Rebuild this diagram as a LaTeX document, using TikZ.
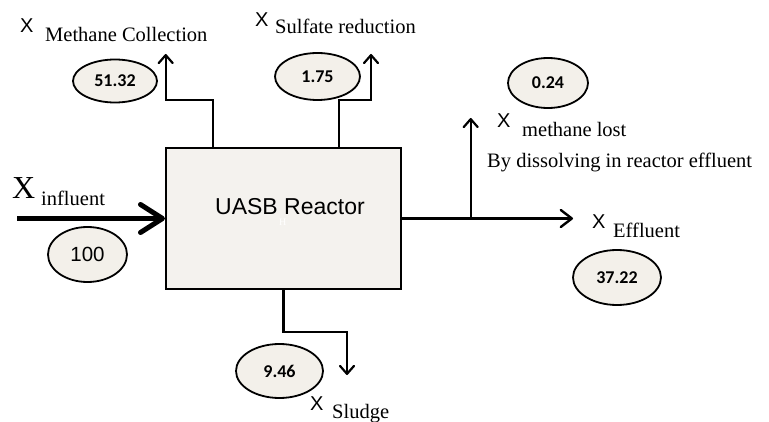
\documentclass[tikz,border=0pt]{standalone}
\usepackage{fontspec}
\setmainfont{Liberation Serif}
\newfontfamily\arialf{Liberation Sans}
\newfontfamily\calibf{Carlito}
\usetikzlibrary{arrows.meta,shapes.geometric}
\definecolor{boxfill}{HTML}{F4F2EE}
\definecolor{ellfill}{HTML}{F3F0EA}
\begin{document}
\begin{tikzpicture}[x=1pt,y=-1pt,
  flowline/.style={line width=2.2pt,line cap=round,line join=miter,
    -{Straight Barb[length=8pt,width=14pt,line cap=round,line join=round]}},
  effline/.style={line width=2.4pt,line join=miter,
    -{Straight Barb[length=11pt,width=17pt,line cap=round,line join=round]}},
  bigline/.style={line width=5pt,
    -{Straight Barb[length=22pt,width=28pt,line cap=round,line join=round]}},
  valell/.style={ellipse,draw,line width=1.8pt,fill=ellfill,inner sep=0pt,
    font=\calibf\bfseries\fontsize{18}{20}\selectfont},
  xsans/.style={inner sep=0pt,anchor=base west,font=\arialf\fontsize{20}{22}\selectfont},
  subtxt/.style={inner sep=0pt,anchor=base west,font=\fontsize{20.5}{24}\selectfont},
]
\useasboundingbox (0,0) rectangle (769,422);

% reactor
\node[draw,line width=2pt,fill=boxfill,minimum width=235pt,minimum height=141pt,inner sep=0pt]
  (reactor) at (283.5,218.5) {};
\node[inner sep=0pt,anchor=base west,font=\arialf\fontsize{23}{26}\selectfont]
  (rlabel) at (215,215) {UASB Reactor};
\node[inner sep=0pt,anchor=base west,text=white,font=\fontsize{10}{11}\selectfont]
  (rsub) at (279,226) {H};

% influent
\coordinate (inStart) at (17,218.5);
\draw[bigline] (inStart) -- (reactor.west);
\node[inner sep=0pt,anchor=base west,font=\fontsize{32}{36}\selectfont] (xin) at (12,199) {X};
\node[subtxt] (sin) at (41,206) {influent};
\node[valell,minimum width=79pt,minimum height=55pt,font=\arialf\fontsize{20.5}{24}\selectfont]
  (e100) at (87.5,254.5) {100};

% methane collection
\coordinate (mcJoin) at (213,100);
\coordinate (mcEnd) at (165.7,54);
\draw[flowline] (reactor.north -| mcJoin) -- (mcJoin) -| (mcEnd);
\node[xsans] (xmc) at (20,33) {X};
\node[subtxt] (smc) at (45,42) {Methane Collection};
\node[valell,minimum width=84pt,minimum height=43pt] (e5132) at (115,81) {51.32};

% sulfate reduction
\coordinate (srJoin) at (339,100);
\coordinate (srEnd) at (371,54);
\draw[flowline] (reactor.north -| srJoin) -- (srJoin) -| (srEnd);
\node[xsans] (xsr) at (255,27) {X};
\node[subtxt] (ssr) at (275,34) {Sulfate reduction};
\node[valell,minimum width=85pt,minimum height=47pt] (e175) at (317.5,76.5) {1.75};

% effluent
\coordinate (effEnd) at (573,218.5);
\draw[effline] (reactor.east) -- (effEnd);
\node[xsans] (xeff) at (592,229) {X};
\node[subtxt] (seff) at (613,238) {Effluent};
\node[valell,minimum width=88pt,minimum height=55pt] (e3722) at (617,277.5) {37.22};

% methane lost
\coordinate (mlEnd) at (470.7,118);
\draw[flowline] (reactor.east -| mlEnd) -- (mlEnd);
\node[xsans] (xml) at (497,128) {X};
\node[subtxt] (sml) at (522,137) {methane lost};
\node[subtxt] (sml2) at (487,168) {By dissolving in reactor effluent};
\node[valell,minimum width=80pt,minimum height=50pt] (e024) at (548,83) {0.24};

% sludge
\coordinate (slBend) at (347,332);
\coordinate (slEnd) at (347,375);
\draw[flowline] (reactor.south) |- (slBend) -- (slEnd);
\node[xsans] (xsl) at (310,410) {X};
\node[subtxt] (ssl) at (332,418) {Sludge};
\node[valell,minimum width=87pt,minimum height=54pt] (e946) at (279.5,371) {9.46};
\end{tikzpicture}
\end{document}
